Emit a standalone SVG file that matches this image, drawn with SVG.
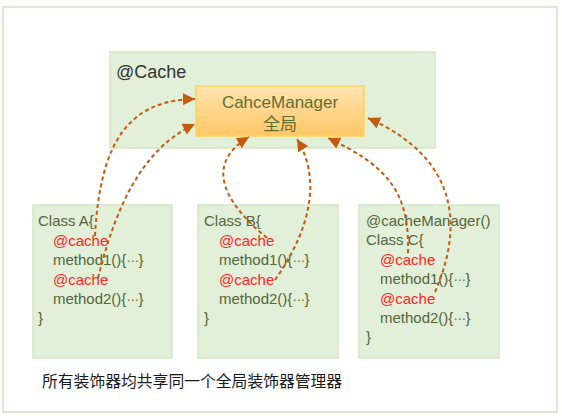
<svg xmlns="http://www.w3.org/2000/svg" width="562" height="419" viewBox="0 0 562 419">
<defs>
<linearGradient id="mg" x1="0" y1="0" x2="0" y2="1">
<stop offset="0" stop-color="#ffe5b0"/>
<stop offset="1" stop-color="#ffc666"/>
</linearGradient>
<marker id="ah" markerUnits="userSpaceOnUse" markerWidth="14" markerHeight="12" refX="12" refY="6" orient="auto">
<path d="M0,0 L12,6 L0,12 Z" fill="#c55a11"/>
</marker>
<style>
.frame{fill:#fff;stroke:#d9ead3;stroke-width:2}
.box{fill:#e2efd9;stroke:#d3e7c6;stroke-width:1.5}
.t{font-family:"Liberation Sans","Noto Sans CJK SC",sans-serif;font-size:15px;fill:#55663a}
.r{fill:#ff2626}
.e{font-family:"DejaVu Sans",sans-serif;font-size:12px}
.arr{fill:none;stroke:#c55a11;stroke-width:2;stroke-dasharray:4 3;marker-end:url(#ah)}
</style>
</defs>
<rect class="frame" x="3" y="7" width="554" height="405"/>
<g id="cache">
<rect class="box" x="110" y="52" width="325" height="96"/>
<text x="116" y="78" style="font-family:'Liberation Sans',sans-serif;font-size:18px;fill:#333">@Cache</text>
</g>
<g id="manager">
<rect x="196" y="86" width="168" height="50" fill="url(#mg)" stroke="#ffd45a" stroke-width="1.5"/>
<text class="t" x="280" y="108" text-anchor="middle" style="font-size:17px;fill:#5e6e34">CahceManager</text>
<text class="t" x="280" y="130" text-anchor="middle" style="font-size:17px;fill:#5e6e34">全局</text>
</g>
<g id="classA">
<rect class="box" x="33" y="205" width="139" height="153"/>
<text class="t" x="38" y="226">Class A{</text>
<text class="t r" x="53" y="246">@cache</text>
<text class="t" x="53" y="265">method1(){<tspan class="e">⋯</tspan>}</text>
<text class="t r" x="53" y="285">@cache</text>
<text class="t" x="53" y="304">method2(){<tspan class="e">⋯</tspan>}</text>
<text class="t" x="38" y="323">}</text>
</g>
<g id="classB">
<rect class="box" x="198" y="205" width="140" height="153"/>
<text class="t" x="204" y="226">Class B{</text>
<text class="t r" x="219" y="246">@cache</text>
<text class="t" x="219" y="265">method1(){<tspan class="e">⋯</tspan>}</text>
<text class="t r" x="219" y="285">@cache</text>
<text class="t" x="219" y="304">method2(){<tspan class="e">⋯</tspan>}</text>
<text class="t" x="204" y="323">}</text>
</g>
<g id="classC">
<rect class="box" x="359" y="205" width="140" height="153"/>
<text class="t" x="366" y="226">@cacheManager()</text>
<text class="t" x="366" y="245">Class C{</text>
<text class="t r" x="380" y="265">@cache</text>
<text class="t" x="380" y="284">method1(){<tspan class="e">⋯</tspan>}</text>
<text class="t r" x="380" y="304">@cache</text>
<text class="t" x="380" y="323">method2(){<tspan class="e">⋯</tspan>}</text>
<text class="t" x="366" y="342">}</text>
</g>
<g id="connectors">
<path class="arr" d="M95,236 C100,140 130,100 195,99"/>
<path class="arr" d="M98,278 C115,210 140,150 195,124"/>
<path class="arr" d="M267,238 C215,195 210,160 249,137"/>
<path class="arr" d="M275,280 C310,230 322,180 297,139"/>
<path class="arr" d="M408,253 C410,190 385,165 328,138"/>
<path class="arr" d="M435,292 C462,230 462,160 368,118"/>
</g>
<text x="42" y="387" style="font-family:'Noto Sans CJK SC',sans-serif;font-size:15.8px;fill:#1a1a1a">所有装饰器均共享同一个全局装饰器管理器</text>
</svg>
